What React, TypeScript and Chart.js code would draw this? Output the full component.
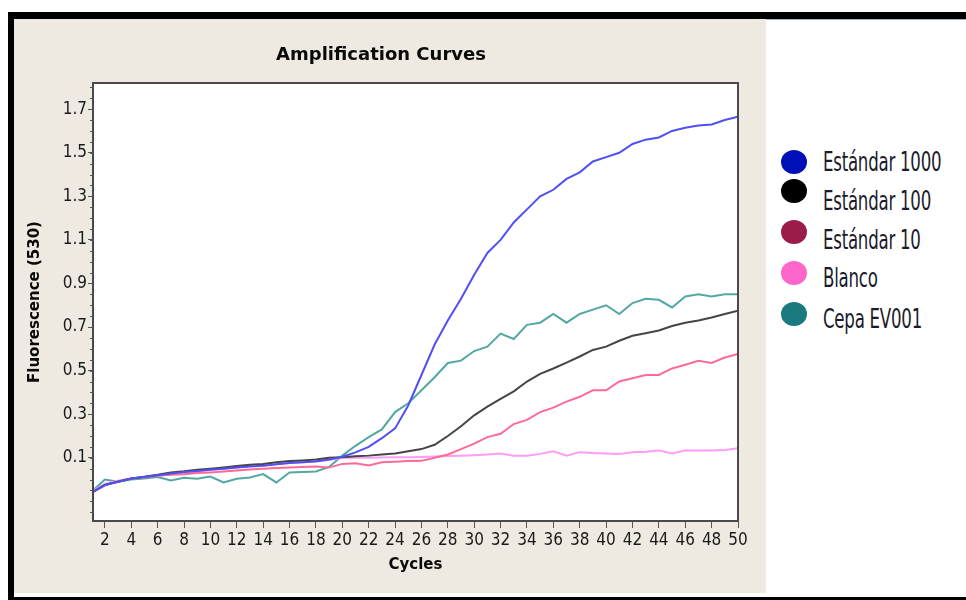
import React, { useEffect, useRef } from "react";
import { Chart, registerables } from "chart.js";

Chart.register(...registerables);

const cycles = [1, 2, 3, 4, 5, 6, 7, 8, 9, 10, 11, 12, 13, 14, 15, 16, 17, 18, 19, 20, 21, 22, 23, 24, 25, 26, 27, 28, 29, 30, 31, 32, 33, 34, 35, 36, 37, 38, 39, 40, 41, 42, 43, 44, 45, 46, 47, 48, 49, 50];

const xTicks = [2, 4, 6, 8, 10, 12, 14, 16, 18, 20, 22, 24, 26, 28, 30, 32, 34, 36, 38, 40, 42, 44, 46, 48, 50];
const yTicks = [0.1, 0.3, 0.5, 0.7, 0.9, 1.1, 1.3, 1.5, 1.7];

const std1000 = [-0.06, -0.025, -0.01, 0.005, 0.012, 0.02, 0.028, 0.035, 0.04, 0.045, 0.05, 0.056, 0.06, 0.063, 0.07, 0.076, 0.08, 0.083, 0.092, 0.105, 0.125, 0.15, 0.19, 0.235, 0.34, 0.48, 0.62, 0.73, 0.83, 0.94, 1.04, 1.1, 1.18, 1.24, 1.3, 1.33, 1.38, 1.41, 1.46, 1.48, 1.5, 1.54, 1.56, 1.57, 1.6, 1.615, 1.625, 1.63, 1.65, 1.665];

const std100 = [-0.06, -0.025, -0.01, 0.005, 0.013, 0.022, 0.033, 0.038, 0.045, 0.05, 0.056, 0.062, 0.068, 0.072, 0.08, 0.085, 0.088, 0.092, 0.1, 0.103, 0.107, 0.11, 0.115, 0.12, 0.13, 0.14, 0.16, 0.2, 0.245, 0.295, 0.335, 0.37, 0.405, 0.45, 0.485, 0.51, 0.537, 0.565, 0.595, 0.61, 0.637, 0.66, 0.672, 0.684, 0.705, 0.72, 0.73, 0.744, 0.76, 0.775];

const std10 = [-0.06, -0.025, -0.008, 0.005, 0.01, 0.018, 0.022, 0.025, 0.03, 0.033, 0.037, 0.042, 0.046, 0.05, 0.053, 0.056, 0.058, 0.06, 0.055, 0.072, 0.075, 0.065, 0.08, 0.082, 0.085, 0.086, 0.1, 0.115, 0.14, 0.165, 0.195, 0.21, 0.255, 0.274, 0.31, 0.33, 0.358, 0.38, 0.41, 0.41, 0.45, 0.465, 0.48, 0.48, 0.51, 0.527, 0.545, 0.535, 0.56, 0.577];

const blanco = [-0.055, -0.02, -0.005, 0.005, 0.012, 0.02, 0.026, 0.03, 0.038, 0.045, 0.05, 0.056, 0.062, 0.066, 0.07, 0.076, 0.08, 0.085, 0.09, 0.1, 0.1, 0.1, 0.101, 0.102, 0.103, 0.104, 0.106, 0.108, 0.11, 0.112, 0.115, 0.12, 0.11, 0.11, 0.118, 0.13, 0.11, 0.126, 0.122, 0.12, 0.117, 0.126, 0.128, 0.134, 0.12, 0.134, 0.134, 0.134, 0.136, 0.144];

const cepa = [-0.055, 0.0, -0.01, 0.0, 0.005, 0.012, -0.004, 0.008, 0.004, 0.014, -0.013, 0.004, 0.01, 0.025, -0.013, 0.033, 0.035, 0.037, 0.058, 0.11, 0.155, 0.195, 0.23, 0.31, 0.35, 0.41, 0.47, 0.535, 0.546, 0.59, 0.61, 0.67, 0.645, 0.71, 0.72, 0.76, 0.72, 0.76, 0.78, 0.8, 0.76, 0.81, 0.83, 0.825, 0.79, 0.84, 0.85, 0.84, 0.85, 0.85];

const seriesNames = ["Estándar 1000", "Estándar 100", "Estándar 10", "Blanco", "Cepa EV001"];
const lineColors = ["#4f4ff5", "#454545", "#ff6a96", "#ff9cf5", "#52a8a2"];
const legendColors = ["#0010b8", "#000000", "#9b1c4a", "#ff66cc", "#1b7a80"];
const seriesValues = [std1000, std100, std10, blanco, cepa];

const BEIGE = "#efeae1";
const AXIS_FONT = "'Liberation Sans Narrow', 'DejaVu Sans Condensed', 'Liberation Sans', sans-serif";

const framePlugin = {
  id: "frame",
  beforeDraw(chart: any) {
    const { ctx, chartArea, width, height } = chart;
    ctx.save();
    ctx.fillStyle = BEIGE;
    ctx.fillRect(0, 0, width, height);
    ctx.fillStyle = "#ffffff";
    ctx.fillRect(chartArea.left, chartArea.top, chartArea.right - chartArea.left, chartArea.bottom - chartArea.top);
    ctx.restore();
  },
  afterDraw(chart: any) {
    const { ctx, chartArea } = chart;
    const y = chart.scales.y;
    ctx.save();
    ctx.strokeStyle = "#4a4a4a";
    ctx.lineWidth = 2;
    ctx.strokeRect(chartArea.left, chartArea.top, chartArea.right - chartArea.left, chartArea.bottom - chartArea.top);
    ctx.strokeStyle = "#555";
    ctx.lineWidth = 1;
    for (let i = -3; i <= 36; i++) {
      const v = i * 0.05;
      if (v < y.min || v > y.max) continue;
      const py = Math.round(y.getPixelForValue(v)) + 0.5;
      ctx.beginPath();
      ctx.moveTo(chartArea.left - 3, py);
      ctx.lineTo(chartArea.left, py);
      ctx.stroke();
    }
    ctx.restore();
  },
};

function AmpChart() {
  const ref = useRef<HTMLCanvasElement | null>(null);
  useEffect(() => {
    if (!ref.current) return;
    const chart = new Chart(ref.current, {
      type: "line",
      data: {
        datasets: seriesNames.map((name, i) => ({
          label: name,
          data: cycles.map((c, j) => ({ x: c, y: seriesValues[i][j] })),
          borderColor: lineColors[i],
          backgroundColor: lineColors[i],
          borderWidth: 2,
          pointRadius: 0,
          tension: 0,
          fill: false,
        })),
      },
      options: {
        animation: false,
        responsive: false,
        maintainAspectRatio: false,
        layout: { padding: { left: 10, right: 28, top: 0, bottom: 0 } },
        plugins: {
          legend: { display: false },
          tooltip: { enabled: false },
          title: {
            display: true,
            text: "Amplification Curves",
            color: "#0a0a0a",
            font: { family: "'DejaVu Sans', sans-serif", size: 18, weight: "bold", lineHeight: 1.2 },
            padding: { top: 26, bottom: 16.4 },
          },
        },
        scales: {
          x: {
            type: "linear",
            min: 1.1,
            max: 50,
            afterBuildTicks: (scale: any) => {
              scale.ticks = xTicks.map((v) => ({ value: v }));
            },
            afterFit: (scale: any) => {
              scale.height = 72;
            },
            ticks: {
              autoSkip: false,
              maxRotation: 0,
              padding: 2,
              color: "#1a1a1a",
              font: { family: AXIS_FONT, size: 17, lineHeight: 1.2 },
              callback: (v: any) => String(v),
            },
            grid: { drawOnChartArea: false, drawTicks: true, tickLength: 7, color: "#555", lineWidth: 1 },
            border: { display: true, color: "#4a4a4a", width: 2 },
            title: {
              display: true,
              text: "Cycles",
              color: "#0a0a0a",
              font: { family: "'DejaVu Sans', sans-serif", size: 15, weight: "bold", lineHeight: 1.2 },
              padding: { top: 0, bottom: 19 },
            },
          },
          y: {
            type: "linear",
            min: -0.19,
            max: 1.82,
            afterBuildTicks: (scale: any) => {
              scale.ticks = yTicks.map((v) => ({ value: v }));
            },
            afterFit: (scale: any) => {
              scale.width = 69;
            },
            ticks: {
              autoSkip: false,
              padding: 1,
              color: "#1a1a1a",
              font: { family: AXIS_FONT, size: 17, lineHeight: 1.2 },
              callback: (v: any) => Number(v).toFixed(1),
            },
            grid: { drawOnChartArea: false, drawTicks: true, tickLength: 5, color: "#555", lineWidth: 1 },
            border: { display: true, color: "#4a4a4a", width: 2 },
            title: {
              display: true,
              text: "Fluorescence (530)",
              color: "#0a0a0a",
              font: { family: "'DejaVu Sans', sans-serif", size: 15, weight: "bold", lineHeight: 1.2 },
              padding: { top: 2, bottom: 0 },
            },
          },
        },
      },
      plugins: [framePlugin],
    } as any);
    return () => chart.destroy();
  }, []);
  return <canvas ref={ref} width={752} height={574} style={{ position: "absolute", left: 14, top: 19, width: 752, height: 574 }} />;
}

const legendTextTops = [163, 202, 241, 279, 320];
const legendDotTops = [162, 191, 232, 273, 314];

export default function App() {
  return (
    <div style={{ position: "absolute", left: 0, top: 0, width: 966, height: 600, background: "#fff", overflow: "hidden" }}>
      <div style={{ position: "absolute", left: 8, top: 12, width: 958, height: 7, background: "#000" }} />
      <div style={{ position: "absolute", left: 14, top: 19, width: 952, height: 1, background: "#9fb4d0" }} />
      <div style={{ position: "absolute", left: 8, top: 12, width: 6, height: 588, background: "#000" }} />
      <div style={{ position: "absolute", left: 8, top: 597, width: 958, height: 3, background: "#000" }} />
      <AmpChart />
      {seriesNames.map((name, i) => (
        <React.Fragment key={name}>
          <div
            style={{
              position: "absolute",
              left: 781,
              top: legendDotTops[i] - 12,
              width: 26,
              height: 24,
              borderRadius: "50%",
              background: legendColors[i],
            }}
          />
          <div
            style={{
              position: "absolute",
              left: 823,
              top: legendTextTops[i] - 14,
              height: 28,
              lineHeight: "28px",
              fontFamily: "'Liberation Sans Narrow', 'DejaVu Sans Condensed', 'Liberation Sans', sans-serif",
              fontSize: 22,
              color: "#1b1b2b",
              whiteSpace: "nowrap",
              transform: "scale(0.84, 1.2)",
              transformOrigin: "left center",
              letterSpacing: "-0.3px",
            }}
          >
            {name}
          </div>
        </React.Fragment>
      ))}
    </div>
  );
}
